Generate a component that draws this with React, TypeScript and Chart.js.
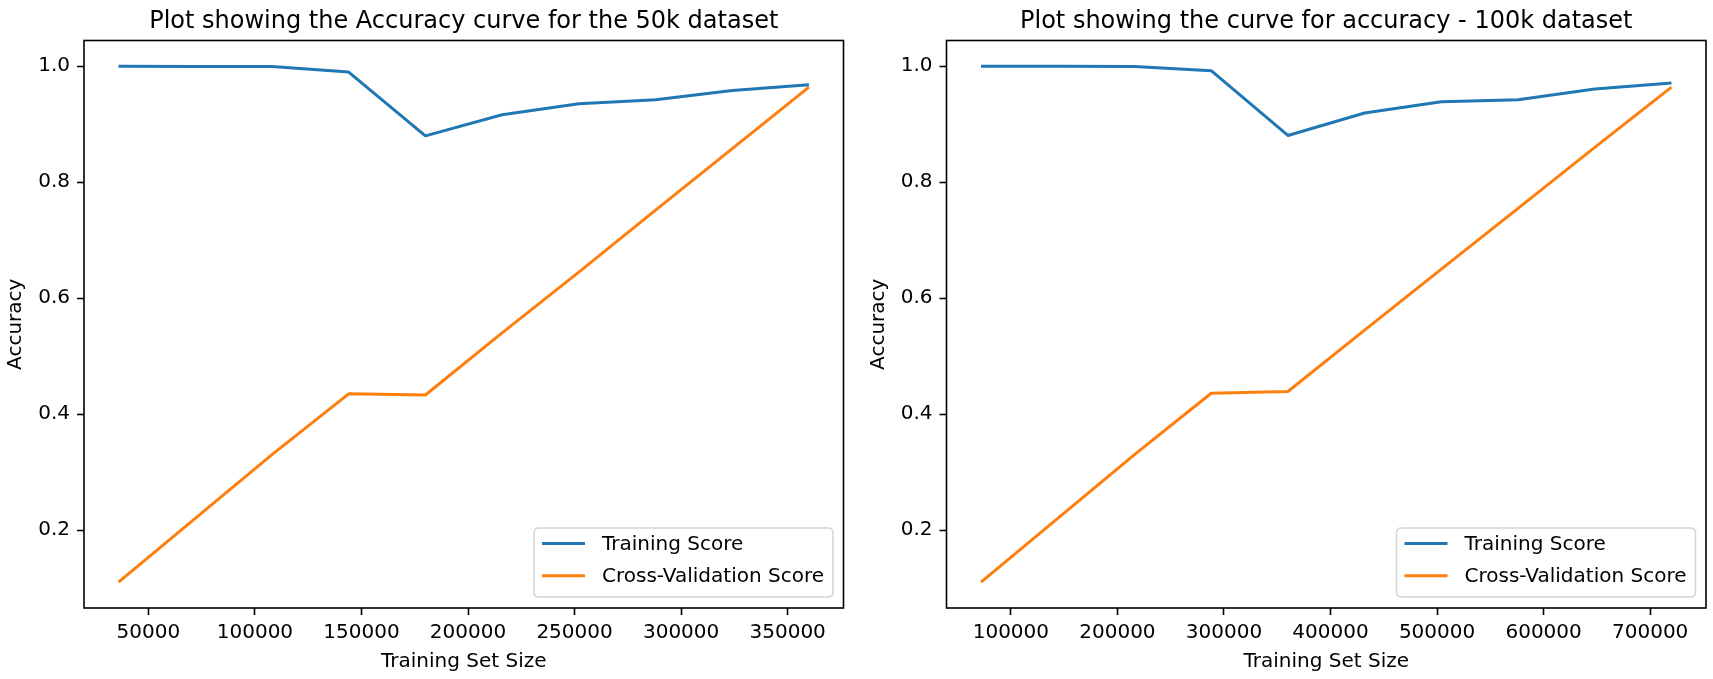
import React, { useEffect, useRef } from "react";
import { Chart, registerables } from "chart.js";

Chart.register(...registerables);

// ---------- data ----------
const SIZES_50K = [36000, 72000, 108000, 144000, 180000, 216000, 252000, 288000, 324000, 360000];
const TRAIN_50K = [1.0, 0.9998, 0.9995, 0.990, 0.880, 0.9165, 0.9355, 0.9424, 0.9584, 0.9682];
const CV_50K = [0.110, 0.220, 0.330, 0.435, 0.433, 0.540, 0.645, 0.752, 0.858, 0.964];

const SIZES_100K = [72000, 144000, 216000, 288000, 360000, 432000, 504000, 576000, 648000, 720000];
const TRAIN_100K = [1.0, 0.9999, 0.9997, 0.9924, 0.8807, 0.9194, 0.939, 0.9424, 0.9608, 0.971];
const CV_100K = [0.110, 0.220, 0.330, 0.436, 0.439, 0.545, 0.650, 0.755, 0.860, 0.964];

const Y_TICKS = [0.2, 0.4, 0.6, 0.8, 1.0];
const X_TICKS_50K = [50000, 100000, 150000, 200000, 250000, 300000, 350000];
const X_TICKS_100K = [100000, 200000, 300000, 400000, 500000, 600000, 700000];

const TITLE_50K = "Plot showing the Accuracy curve for the 50k dataset";
const TITLE_100K = "Plot showing the curve for accuracy - 100k dataset";
const SERIES_LABELS = ["Training Score", "Cross-Validation Score"];
const X_LABEL = "Training Set Size";
const Y_LABEL = "Accuracy";

const BLUE = "#1f77b4";
const ORANGE = "#ff7f0e";
const FONT = '"DejaVu Sans", "Liberation Sans", sans-serif';
const H = 679;

function paddedRange(vals: number[]) {
  const lo = Math.min(...vals);
  const hi = Math.max(...vals);
  const m = (hi - lo) * 0.05;
  return [lo - m, hi + m];
}

const framePlugin = {
  id: "frame",
  afterDatasetsDraw(chart: any) {
    const { ctx, chartArea } = chart;
    ctx.save();
    ctx.strokeStyle = "#000";
    ctx.lineWidth = 1.6;
    ctx.strokeRect(chartArea.left, chartArea.top, chartArea.right - chartArea.left, chartArea.bottom - chartArea.top);
    ctx.restore();
  },
};

const axesTitlePlugin = {
  id: "axesTitle",
  afterDraw(chart: any, _args: any, opts: any) {
    const { ctx, chartArea } = chart;
    ctx.save();
    ctx.fillStyle = "#000";
    ctx.font = `24px ${FONT}`;
    ctx.textAlign = "center";
    ctx.textBaseline = "alphabetic";
    ctx.fillText(opts.text, (chartArea.left + chartArea.right) / 2, chartArea.top - 13);
    ctx.restore();
  },
};

const innerLegendPlugin = {
  id: "innerLegend",
  afterDatasetsDraw(chart: any) {
    const { ctx, chartArea } = chart;
    const ds = chart.data.datasets;
    ctx.save();
    ctx.font = `20px ${FONT}`;
    const textW = Math.max(...ds.map((d: any) => ctx.measureText(d.label).width));
    const w = 68 + textW + 9;
    const h = 69;
    const x = chartArea.right - 10.5 - w;
    const y = chartArea.bottom - 11 - h;
    const r = 5;
    ctx.beginPath();
    ctx.moveTo(x + r, y);
    ctx.lineTo(x + w - r, y);
    ctx.quadraticCurveTo(x + w, y, x + w, y + r);
    ctx.lineTo(x + w, y + h - r);
    ctx.quadraticCurveTo(x + w, y + h, x + w - r, y + h);
    ctx.lineTo(x + r, y + h);
    ctx.quadraticCurveTo(x, y + h, x, y + h - r);
    ctx.lineTo(x, y + r);
    ctx.quadraticCurveTo(x, y, x + r, y);
    ctx.closePath();
    ctx.fillStyle = "rgba(255,255,255,0.8)";
    ctx.fill();
    ctx.strokeStyle = "#d4d4d4";
    ctx.lineWidth = 1.5;
    ctx.stroke();
    ds.forEach((d: any, i: number) => {
      const cy = y + 15.5 + i * 32.3;
      ctx.beginPath();
      ctx.strokeStyle = d.borderColor;
      ctx.lineWidth = 3;
      ctx.moveTo(x + 8, cy);
      ctx.lineTo(x + 51, cy);
      ctx.stroke();
      ctx.fillStyle = "#000";
      ctx.textAlign = "left";
      ctx.textBaseline = "middle";
      ctx.fillText(d.label, x + 68, cy + 1);
    });
    ctx.restore();
  },
};

type PanelProps = {
  left: number;
  width: number;
  padRight: number;
  yAxisWidth: number;
  yTitlePad: number;
  title: string;
  sizes: number[];
  train: number[];
  cv: number[];
  xTicks: number[];
};

function Panel(p: PanelProps) {
  const ref = useRef<HTMLCanvasElement | null>(null);
  useEffect(() => {
    if (!ref.current) return;
    const [xmin, xmax] = paddedRange(p.sizes);
    const [ymin, ymax] = paddedRange([...p.train, ...p.cv]);
    const tickFont = { family: FONT, size: 20 };
    const chart = new Chart(ref.current, {
      type: "line",
      data: {
        datasets: [
          {
            label: SERIES_LABELS[0],
            data: p.sizes.map((s, i) => ({ x: s, y: p.train[i] })),
            borderColor: BLUE,
            backgroundColor: BLUE,
            borderWidth: 3,
            pointRadius: 0,
            tension: 0,
            borderJoinStyle: "round",
            fill: false,
          },
          {
            label: SERIES_LABELS[1],
            data: p.sizes.map((s, i) => ({ x: s, y: p.cv[i] })),
            borderColor: ORANGE,
            backgroundColor: ORANGE,
            borderWidth: 3,
            pointRadius: 0,
            tension: 0,
            borderJoinStyle: "round",
            fill: false,
          },
        ],
      },
      options: {
        animation: false,
        responsive: false,
        devicePixelRatio: 1,
        layout: { padding: { left: 0, right: p.padRight, top: 40.5, bottom: 0 } },
        plugins: {
          legend: { display: false },
          tooltip: { enabled: false },
          title: { display: false },
          axesTitle: { text: p.title },
        } as any,
        scales: {
          x: {
            type: "linear",
            min: xmin,
            max: xmax,
            afterBuildTicks: (s: any) => {
              s.ticks = p.xTicks.map((v) => ({ value: v }));
            },
            afterFit: (s: any) => {
              s.height = 71;
            },
            grid: { drawOnChartArea: false, drawTicks: true, tickLength: 7, tickWidth: 1.6, tickColor: "#000" },
            border: { display: false },
            ticks: {
              padding: 6,
              color: "#000",
              font: tickFont,
              maxRotation: 0,
              autoSkip: false,
              callback: (v: any) => String(v),
            },
            title: {
              display: true,
              text: X_LABEL,
              color: "#000",
              font: tickFont,
              padding: { top: 0, bottom: 5 },
            },
          },
          y: {
            type: "linear",
            min: ymin,
            max: ymax,
            afterBuildTicks: (s: any) => {
              s.ticks = Y_TICKS.map((v) => ({ value: v }));
            },
            afterFit: (s: any) => {
              s.width = p.yAxisWidth;
            },
            grid: { drawOnChartArea: false, drawTicks: true, tickLength: 7, tickWidth: 1.6, tickColor: "#000" },
            border: { display: false },
            ticks: {
              padding: 7,
              color: "#000",
              font: tickFont,
              autoSkip: false,
              callback: (v: any) => Number(v).toFixed(1),
            },
            title: {
              display: true,
              text: Y_LABEL,
              color: "#000",
              font: tickFont,
              padding: { top: p.yTitlePad, bottom: 0 },
            },
          },
        },
      },
      plugins: [framePlugin, axesTitlePlugin, innerLegendPlugin],
    } as any);
    return () => chart.destroy();
  }, []);
  return (
    <canvas
      ref={ref}
      width={p.width}
      height={H}
      style={{ position: "absolute", left: p.left, top: 0, width: p.width, height: H }}
    />
  );
}

export default function App() {
  return (
    <div style={{ position: "fixed", left: 0, top: 0, width: 1713, height: H, background: "#fff", overflow: "hidden" }}>
      <Panel
        left={0}
        width={856}
        padRight={12.5}
        yAxisWidth={84}
        yTitlePad={4}
        title={TITLE_50K}
        sizes={SIZES_50K}
        train={TRAIN_50K}
        cv={CV_50K}
        xTicks={X_TICKS_50K}
      />
      <Panel
        left={856}
        width={857}
        padRight={7}
        yAxisWidth={90.5}
        yTitlePad={10.5}
        title={TITLE_100K}
        sizes={SIZES_100K}
        train={TRAIN_100K}
        cv={CV_100K}
        xTicks={X_TICKS_100K}
      />
    </div>
  );
}
